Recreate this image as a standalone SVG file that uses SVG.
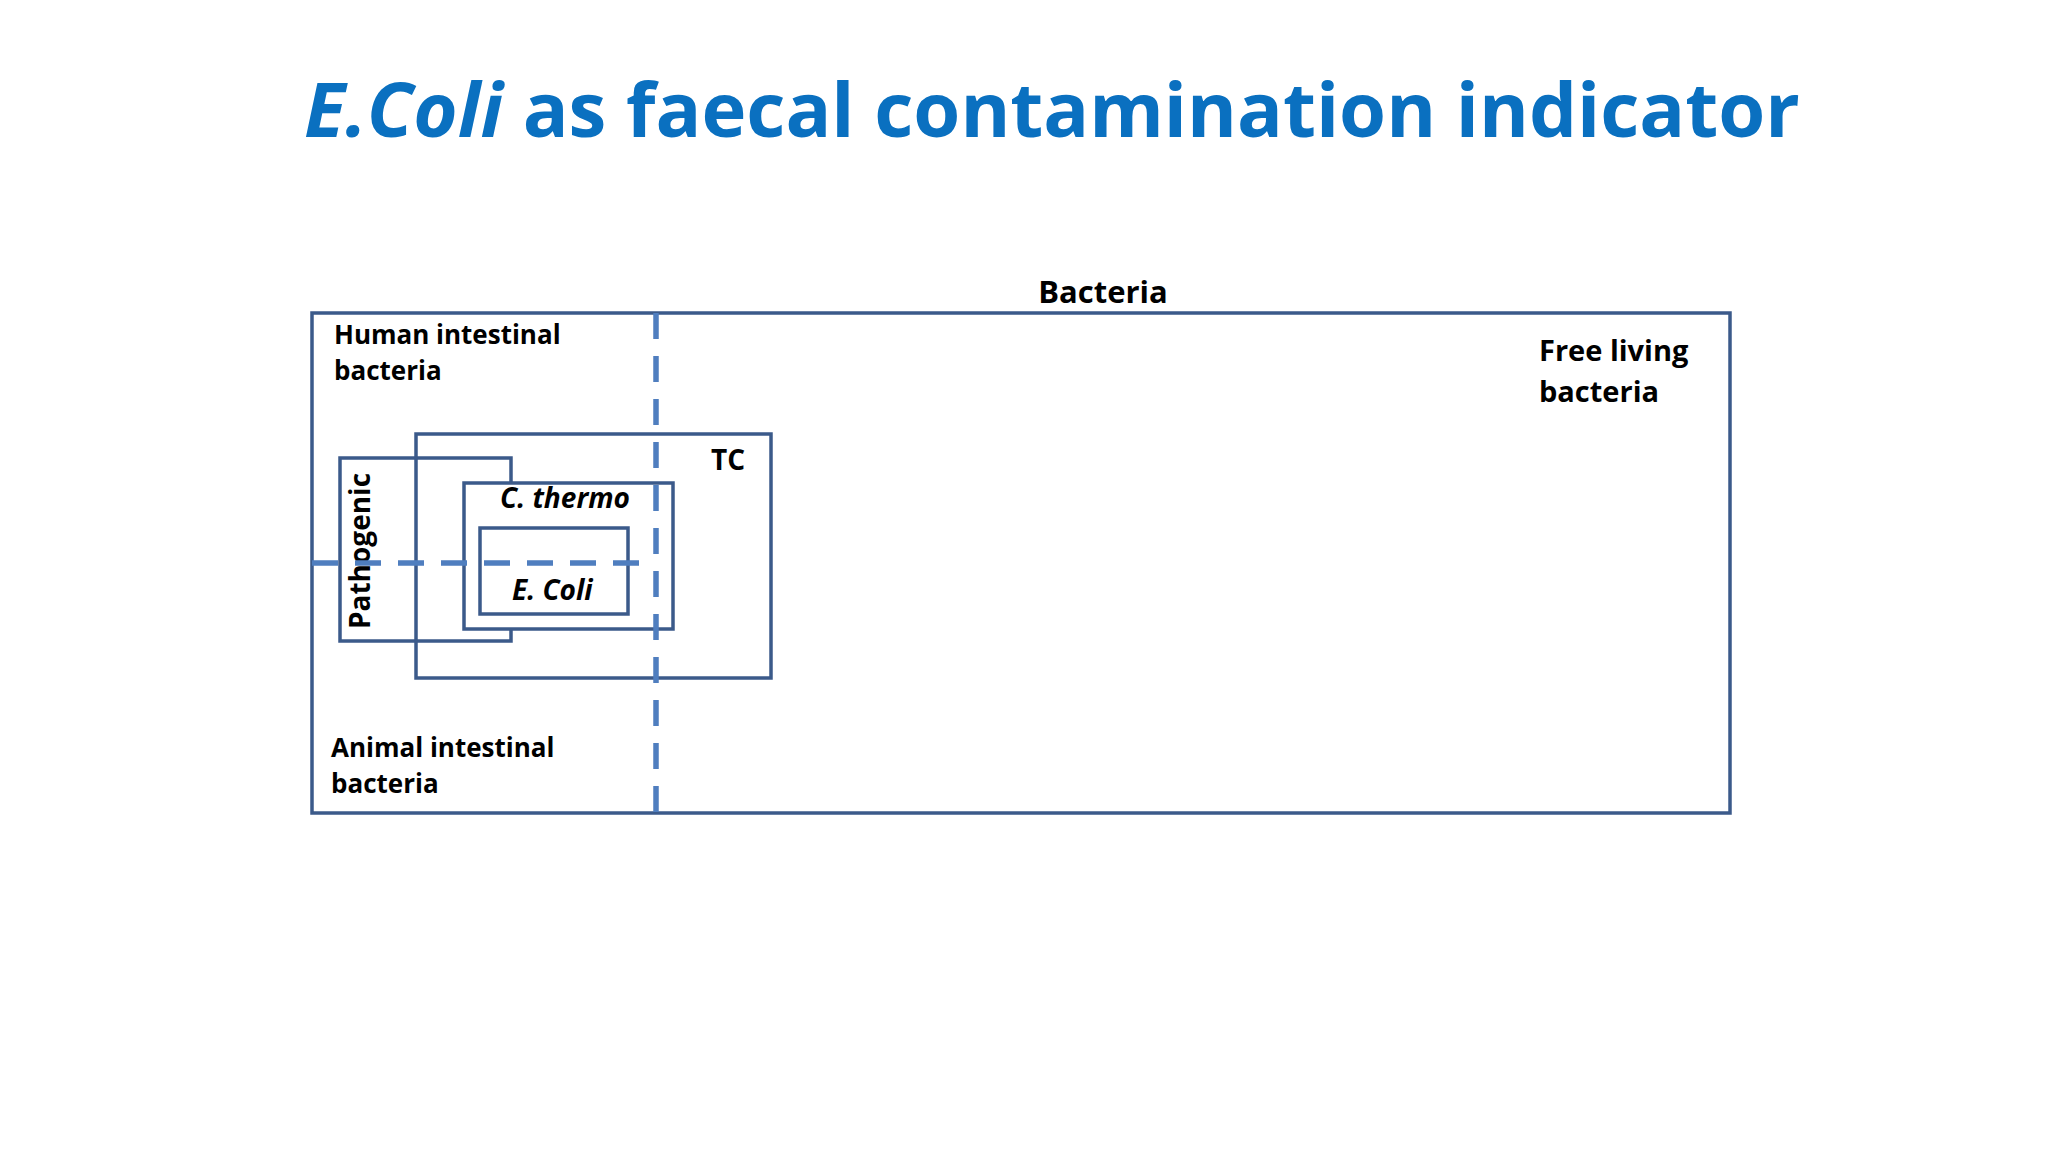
<svg xmlns="http://www.w3.org/2000/svg" width="2048" height="1152" viewBox="0 0 2048 1152">
<style>
.box{fill:none;stroke:#3B5A8A;stroke-width:3.5}
.dash{stroke:#4F7EBF;stroke-width:5.5;stroke-dasharray:26 17;fill:none}
text{font-family:"Open Sans","Liberation Sans",sans-serif;font-weight:bold;fill:#000}
.l{font-size:26px}
</style>
<rect width="2048" height="1152" fill="#fff"/>
<text x="304" y="137" style="font-size:76px;fill:#0A70C0"><tspan font-style="italic">E.Coli</tspan> as faecal contamination indicator</text>
<g id="bacteria"><rect class="box" x="312" y="313" width="1418" height="500"/>
<text x="1103" y="303" text-anchor="middle" style="font-size:31px">Bacteria</text></g>
<g id="human"><text class="l" x="334" y="344">Human intestinal</text><text class="l" x="334" y="380">bacteria</text></g>
<g id="animal"><text class="l" x="331" y="757">Animal intestinal</text><text class="l" x="331" y="793">bacteria</text></g>
<g id="free"><text x="1539" y="361" style="font-size:29px">Free living</text><text x="1539" y="402" style="font-size:29px">bacteria</text></g>
<g id="pathogenic"><rect class="box" x="340" y="458" width="171" height="183"/>
<text transform="translate(370,551) rotate(-90)" text-anchor="middle" style="font-size:28px">Pathogenic</text></g>
<g id="tc"><rect class="box" x="416" y="434" width="355" height="244"/><text x="711" y="470" style="font-size:28px">TC</text></g>
<g id="cthermo"><rect class="box" x="464" y="483" width="209" height="146" fill="#fff" style="fill:#fff"/>
<text x="500" y="508" font-style="italic" style="font-size:28px">C. thermo</text></g>
<g id="ecoli"><rect class="box" x="480" y="528" width="148" height="86"/>
<text x="512" y="600" font-style="italic" style="font-size:28px">E. Coli</text></g>
<g id="connectors">
<line class="dash" x1="656" y1="313" x2="656" y2="813"/>
<line class="dash" x1="312" y1="563" x2="650" y2="563"/>
</g>
</svg>
